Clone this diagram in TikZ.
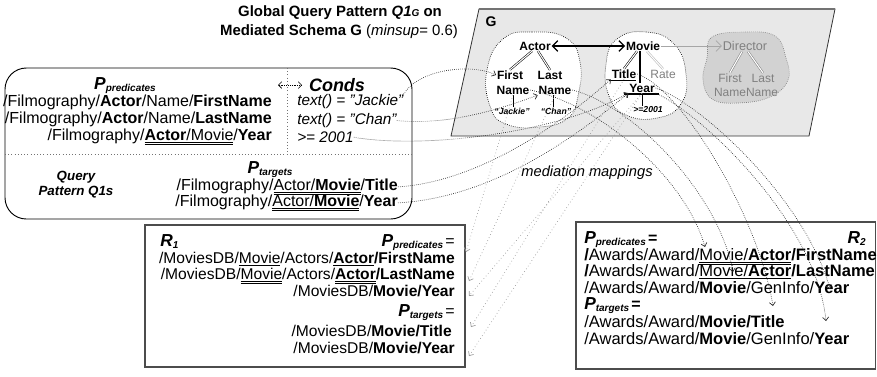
\documentclass[tikz,border=0pt]{standalone}
\usepackage{fontspec}
\setmainfont{Liberation Sans}
\usetikzlibrary{arrows.meta}
\definecolor{planefill}{HTML}{E8E8E8}
\definecolor{dirfill}{HTML}{D2D2D2}
\definecolor{dirtext}{HTML}{808080}
\newsavebox\myulbox
\newcommand\sul[1]{\sbox\myulbox{#1}\rlap{\rule[-2.2pt]{\wd\myulbox}{0.8pt}}\usebox\myulbox}
\newcommand\dul[1]{\sbox\myulbox{#1}\rlap{\rule[-1.9pt]{\wd\myulbox}{0.45pt}}\rlap{\rule[-3.2pt]{\wd\myulbox}{0.45pt}}\usebox\myulbox}
\newcommand\Pset[1]{{\fontsize{13}{13}\selectfont\bfseries\itshape P}\raisebox{-1.5pt}{\fontsize{7.5}{8}\selectfont\bfseries\itshape #1}}
\newcommand\Rlab[1]{{\fontsize{13}{13}\selectfont\bfseries\itshape R}\raisebox{-1.5pt}{\fontsize{7.5}{8}\selectfont\bfseries\itshape #1}}
\begin{document}
\begin{tikzpicture}[x=0.75pt,y=-0.75pt,
  pathtxt/.style={font=\fontsize{12}{14}\selectfont, inner sep=0pt},
  rtxt/.style={font=\fontsize{11.7}{14}\selectfont, inner sep=0pt},
  rrtxt/.style={font=\fontsize{12.4}{14}\selectfont, inner sep=0pt},
  condtxt/.style={font=\fontsize{11.5}{13}\selectfont\itshape, inner sep=0pt},
  gn/.style={font=\fontsize{9}{10}\selectfont\bfseries, inner sep=0.5pt},
  gg/.style={font=\fontsize{9}{10}\selectfont, text=dirtext, inner sep=0.5pt},
  gsmall/.style={font=\fontsize{6.5}{7}\selectfont\bfseries\itshape, inner sep=0.5pt},
  tip/.style={-{Straight Barb[length=2.5pt,width=4.5pt]}},
  qmap/.style={densely dotted, line width=0.5pt, black!85, tip},
  rmap/.style={densely dotted, line width=0.5pt, black!85, tip},
  lmap/.style={dotted, line width=0.5pt, black!40, tip},
  tree/.style={double, double distance=0.8pt, line width=0.4pt},
  ttl/.style={font=\fontsize{11.2}{12}\selectfont\bfseries, inner sep=0pt},
]
\useasboundingbox (0,0) rectangle (877,376);

% title
\node[ttl] (tl1) at (340,13) {Global Query Pattern \textit{Q1}{\fontsize{7.5}{8}\selectfont\textit{G}} on};
\node[ttl] (tl2) at (339,32) {Mediated Schema G {\mdseries(\textit{minsup}= 0.6)}};

% G plane
\fill[planefill] (479,9) -- (835,9) -- (809,136) -- (451,136) -- cycle;
\draw[black!80, line width=0.6pt] (479,9) -- (835,9) -- (809,136) -- (451,136) -- cycle;
\draw[black!55, line width=1.2pt] (479,9) -- (835,9);
\node[font=\fontsize{10.5}{12}\selectfont\bfseries, inner sep=0pt] (Glab) at (491,22) {G};

% blobs
\draw[densely dotted, fill=white, line width=0.5pt] plot[smooth cycle, tension=0.8] coordinates {(503,39) (532,32) (566,38) (580,62) (578,96) (568,118) (540,127) (506,124) (490,106) (487,70)};
\draw[densely dotted, fill=white, line width=0.5pt] plot[smooth cycle, tension=0.8] coordinates {(617,39) (646,32) (674,44) (686,74) (681,104) (657,118) (626,115) (609,96) (606,64)};
\draw[densely dotted, dirtext, fill=dirfill, line width=0.5pt] plot[smooth cycle, tension=0.7] coordinates {(712,37) (745,32) (775,36) (786,58) (788,80) (770,97) (738,103) (712,99) (703,80) (707,58)};

% G nodes
\node[gn] (gActor) at (535,46) {Actor};
\node[gn] (gMovie) at (643,46) {Movie};
\node[gg, font=\fontsize{9.5}{10}\selectfont] (gDir) at (745,46) {Director};
\node[gn] (gFirstA) at (510,75) {First};
\node[gn] (gFirstB) at (513,90) {Name};
\node[gn] (gLastA) at (550,75) {Last};
\node[gn] (gLastB) at (555,90) {Name};
\node[gsmall] (gJack) at (512,111) {``Jackie''};
\node[gsmall] (gChan) at (556,111) {``Chan''};
\node[gn] (gTitle) at (624,74) {Title};
\node[gg] (gRate) at (663,74) {Rate};
\node[gn] (gYear) at (642,88) {Year};
\node[gsmall] (g2001) at (648,110) {>=2001};
\node[gg] (dFirst) at (730,78) {First};
\node[gg] (dLast) at (763,78) {Last};
\node[gg] (dNames) at (746,92) {NameName};

% G edges
\draw[line width=0.9pt, {Straight Barb[length=4pt,width=8pt]}-{Straight Barb[length=4pt,width=8pt]}] (gActor.east) -- (gMovie.west);
\draw[dirtext!70, line width=0.6pt, -{Straight Barb[length=4pt,width=8pt]}] (gMovie.east) -- (gDir.west);
\draw[tree] (gActor.south) ++(-3,0) -- (gFirstA.north);
\draw[tree] (gActor.south) ++(3,0) -- (gLastA.north);
\draw[tree] (gMovie.south) ++(-6,0) -- (gTitle.north);
\draw[line width=1.1pt] (gMovie.south) ++(-3,0) coordinate (mv) -- (mv |- gYear.north);
\draw[tree, dirtext!60] (gMovie.south) ++(4,0) -- (gRate.north);
\draw[tree, dirtext] (gDir.south) ++(-3,0) -- (dFirst.north);
\draw[tree, dirtext] (gDir.south) ++(3,0) -- (dLast.north);
\draw[line width=0.6pt] (gFirstB.south) -- (gFirstB.south |- gJack.north);
\draw[line width=0.6pt] (gLastB.south) ++(-2,0) coordinate (lb) -- (lb |- gChan.north);
\draw[line width=0.6pt] (gYear.south) -- (gYear.south |- g2001.north);
\draw[line width=1pt] (gTitle.south west) ++(-2,1) -- ++(27,0);
\draw[line width=1pt] (gYear.south west) ++(-4,1) -- ++(35,0);

% query box
\draw[line width=0.7pt, rounded corners=16] (5,68) rectangle (412,219);
\draw[dotted, black!55] (287,68) -- (287,154);
\draw[dotted, black!55] (5,154) -- (412,154);
\node[inner sep=0pt] (hP) at (125,86) {\Pset{predicates}};
\node[inner sep=0pt, font=\fontsize{13.5}{14}\selectfont\bfseries\itshape] (hC) at (337,85) {Conds};
\coordinate (dl) at (278,85);
\coordinate (dr) at (302,85);
\draw[densely dotted, {Straight Barb[length=2.5pt,width=5pt]}-{Straight Barb[length=2.5pt,width=5pt]}] (dl) -- (dr);
\node[pathtxt, anchor=mid east] (q1) at (272,103) {/Filmography/\textbf{Actor}/Name/\textbf{FirstName}};
\node[pathtxt, anchor=mid east] (q2) at (272,120) {/Filmography/\textbf{Actor}/Name/\textbf{LastName}};
\node[pathtxt, anchor=mid east] (q3) at (272,137) {/Filmography/\dul{\textbf{Actor}/Movie}/\textbf{Year}};
\node[condtxt, anchor=mid west] (cJ) at (297,102) {text() = "Jackie"};
\node[condtxt, anchor=mid west] (cC) at (297,121) {text() = "Chan"};
\node[condtxt, anchor=mid west] (c2) at (297,139) {>= 2001};
\node[inner sep=0pt] (hT) at (270,170) {\Pset{targets}};
\node[pathtxt, anchor=mid east] (t1) at (398,187) {/Filmography/\dul{Actor/\textbf{Movie}}/\textbf{Title}};
\node[pathtxt, anchor=mid east] (t2) at (398,203) {/Filmography/\dul{Actor/\textbf{Movie}}/\textbf{Year}};
\node[font=\fontsize{10}{11.25}\selectfont\bfseries\itshape, align=center, inner sep=0pt] (qlab) at (76,185) {Query\\Pattern Q1s};

% R1 box
\draw[line width=1.1pt, black!70] (145,225) rectangle (465,367);
\node[anchor=mid west, inner sep=0pt] (r1lab) at (160,243) {\Rlab{1}};
\node[anchor=mid east, inner sep=0pt] (r1P) at (455,243) {\Pset{predicates}\,{\fontsize{12}{14}\selectfont=}};
\node[rtxt, anchor=mid east] (r1a) at (455,260) {/MoviesDB/\sul{Movie}/Actors/\sul{\textbf{Actor}}\textbf{/FirstName}};
\node[rtxt, anchor=mid east] (r1b) at (455,276) {/MoviesDB/\dul{Movie}/Actors/\dul{\textbf{Actor}}\textbf{/LastName}};
\node[rtxt, anchor=mid east] (r1c) at (455,293) {/MoviesDB/\textbf{Movie/Year}};
\node[anchor=mid east, inner sep=0pt] (r1T) at (455,313) {\Pset{targets}\,{\fontsize{12}{14}\selectfont=}};
\node[rtxt, anchor=mid east] (r1d) at (452,333) {/MoviesDB/\textbf{Movie/Title}};
\node[rtxt, anchor=mid east] (r1e) at (455,350) {/MoviesDB/\textbf{Movie/Year}};

% R2 box
\draw[line width=1.1pt, black!70] (576,222) rectangle (875.5,369);
\node[anchor=mid east, inner sep=0pt] (r2lab) at (866,240) {\Rlab{2}};
\node[anchor=mid west, inner sep=0pt] (r2P) at (584,240) {\Pset{predicates}\,{\fontsize{12}{14}\selectfont\bfseries=}};
\node[rrtxt, anchor=mid west] (r2a) at (584,257) {\textbf{/}Awards/Award/\dul{Movie/\textbf{Actor}}\textbf{/FirstName}};
\node[rrtxt, anchor=mid west] (r2b) at (584,273) {\textbf{/}Awards/Award/\sul{Movie/\textbf{Actor}}\textbf{/LastName}};
\node[rrtxt, anchor=mid west] (r2c) at (584,290) {/Awards/Award/\textbf{Movie}/GenInfo/\textbf{Year}};
\node[anchor=mid west, inner sep=0pt] (r2T) at (584,306) {\Pset{targets}\,{\fontsize{12}{14}\selectfont\bfseries=}};
\node[rrtxt, anchor=mid west] (r2d) at (584,324) {/Awards/Award/\textbf{Movie/Title}};
\node[rrtxt, anchor=mid west] (r2e) at (584,341) {/Awards/Award/\textbf{Movie}/GenInfo/\textbf{Year}};

% label
\node[font=\fontsize{11}{13}\selectfont\itshape, inner sep=0pt] (medlab) at (587,173) {mediation mappings};

% arrow end points in R1 and R2
\coordinate (e1a) at (466,252);
\coordinate (e1b) at (469,281);
\coordinate (e1c) at (469,296);
\coordinate (e1d) at (471,327);
\coordinate (e1e) at (469,356);
\coordinate (e2a) at (705,247);
\coordinate (e2b) at (733,272);
\coordinate (e2c) at (830,289);
\coordinate (e2d) at (773,306);
\coordinate (e2e) at (826,321);

% query -> G
\draw[qmap] (cJ.north east) .. controls +(15,-25) and +(-25,-12) .. (gFirstA.west);
\draw[qmap] (cC.east) .. controls +(50,5) and +(-40,15) .. (gLastB.south west);
\draw[qmap] (c2.east) .. controls +(70,12) and +(-70,40) .. (gYear.south west);
\draw[qmap] (t1.east) .. controls +(80,-5) and +(-50,45) .. (gTitle.south west);
\draw[qmap] (t2.east) .. controls +(90,-5) and +(-60,50) .. (gYear.south west);

% G -> R1
\draw[lmap] (gFirstB.south) -- (e1a);
\draw[lmap] (gLastB.south) -- (e1b);
\draw[lmap] (gYear.south) -- (e1c);
\draw[lmap] (gTitle.south) -- (e1d);
\draw[lmap] (gYear.south) -- (e1e);

% G -> R2
\draw[rmap] (gFirstB.east) .. controls +(70,15) and +(-20,-70) .. (e2a);
\draw[rmap] (gLastB.east) .. controls +(60,15) and +(-15,-80) .. (e2b);
\draw[rmap] (gYear.east) .. controls +(45,15) and +(-25,-90) .. (e2c);
\draw[rmap] (gTitle.east) .. controls +(45,15) and +(-15,-90) .. (e2d);
\draw[rmap] (gYear.south east) .. controls +(45,20) and +(-10,-100) .. (e2e);
\end{tikzpicture}
\end{document}
